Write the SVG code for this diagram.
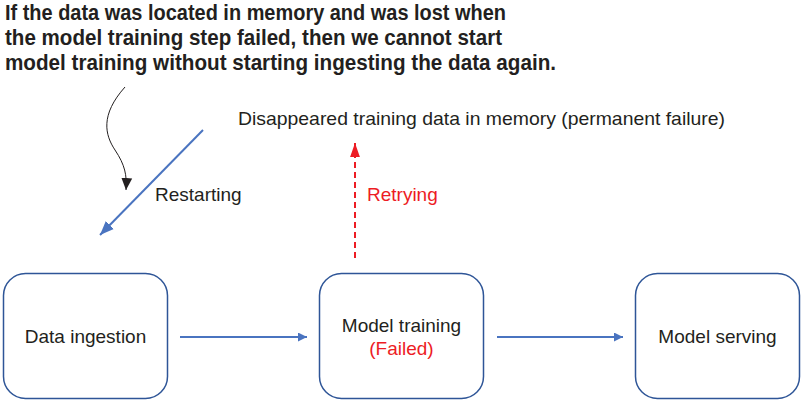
<svg xmlns="http://www.w3.org/2000/svg" width="803" height="403" viewBox="0 0 803 403">
<style>
.box{fill:#fff;stroke:#2e5597;stroke-width:1.5}
.lbl{font-family:"Liberation Sans",Arial,sans-serif;font-size:19px;fill:#231f20}
.red{fill:#ed1c24}
.head{font-family:"Liberation Sans",Arial,sans-serif;font-weight:bold;font-size:22px;fill:#231f20}
.blue{stroke:#4a74c0;stroke-width:2;fill:none}
</style>
<defs>
<marker id="ab" viewBox="0 0 10 10" refX="10" refY="5" markerWidth="9" markerHeight="9" markerUnits="userSpaceOnUse" orient="auto"><path d="M0,0 L10,5 L0,10 z" fill="#4a74c0"/></marker>
<marker id="ab2" viewBox="0 0 10 10" refX="10" refY="5" markerWidth="14" markerHeight="14" markerUnits="userSpaceOnUse" orient="auto"><path d="M0,1 L10,5 L0,9 z" fill="#4a74c0"/></marker>
<marker id="ar" viewBox="0 0 10 10" refX="10" refY="5" markerWidth="14" markerHeight="14" markerUnits="userSpaceOnUse" orient="auto"><path d="M0,1.5 L10,5 L0,8.5 z" fill="#ed1c24"/></marker>
<marker id="ak" viewBox="0 0 10 10" refX="10" refY="5" markerWidth="12" markerHeight="12" markerUnits="userSpaceOnUse" orient="auto"><path d="M0,0.5 L10,5 L0,9.5 z" fill="#231f20"/></marker>
</defs>
<g id="caption">
<text class="head" x="5" y="20" textLength="501" lengthAdjust="spacingAndGlyphs">If the data was located in memory and was lost when</text>
<text class="head" x="5" y="45" textLength="497" lengthAdjust="spacingAndGlyphs">the model training step failed, then we cannot start</text>
<text class="head" x="5" y="70" textLength="551" lengthAdjust="spacingAndGlyphs">model training without starting ingesting the data again.</text>
</g>
<g id="node-ingestion">
<rect class="box" x="3.5" y="273.5" width="164" height="125" rx="22"/>
<text class="lbl" x="85.5" y="343" text-anchor="middle">Data ingestion</text>
</g>
<g id="node-training">
<rect class="box" x="319.5" y="273.5" width="164" height="125" rx="22"/>
<text class="lbl" x="401.5" y="332" text-anchor="middle">Model training</text>
<text class="lbl red" x="401.5" y="355" text-anchor="middle">(Failed)</text>
</g>
<g id="node-serving">
<rect class="box" x="635.5" y="273.5" width="164" height="125" rx="22"/>
<text class="lbl" x="717.5" y="343" text-anchor="middle">Model serving</text>
</g>
<g id="labels">
<text class="lbl" x="238" y="125" textLength="487" lengthAdjust="spacingAndGlyphs">Disappeared training data in memory (permanent failure)</text>
<text class="lbl" x="155" y="201">Restarting</text>
<text class="lbl red" x="367" y="201">Retrying</text>
</g>
<g id="connectors">
<line class="blue" x1="180" y1="337" x2="307" y2="337" marker-end="url(#ab)"/>
<line class="blue" x1="497" y1="337" x2="623" y2="337" marker-end="url(#ab)"/>
<line class="blue" x1="203" y1="130" x2="100" y2="235" marker-end="url(#ab2)"/>
<line x1="355" y1="258" x2="355" y2="143" stroke="#ed1c24" stroke-width="2" stroke-dasharray="6,4" marker-end="url(#ar)"/>
<path d="M125,87 C100,115 105,135 115,150 C125,165 127,175 126,190" fill="none" stroke="#231f20" stroke-width="1" marker-end="url(#ak)"/>
</g>
</svg>
